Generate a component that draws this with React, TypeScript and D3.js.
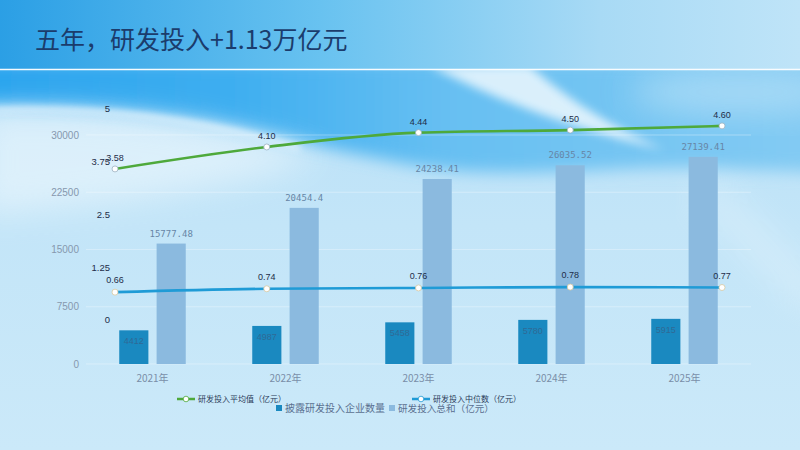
import React from "react";
import * as d3 from "d3";

const years = ["2021年", "2022年", "2023年", "2024年", "2025年"];
const companyCount = [4412, 4987, 5458, 5780, 5915];
const totalInvest = [15777.48, 20454.4, 24238.41, 26035.52, 27139.41];
const avgInvest = [3.58, 4.1, 4.44, 4.5, 4.6];
const medianInvest = [0.66, 0.74, 0.76, 0.78, 0.77];
const barTicks = [0, 7500, 15000, 22500, 30000];
const lineTicks = [0, 1.25, 2.5, 3.75, 5];
const totalLabels = ["15777.48", "20454.4", "24238.41", "26035.52", "27139.41"];
const avgLabels = ["3.58", "4.10", "4.44", "4.50", "4.60"];
const medianLabels = ["0.66", "0.74", "0.76", "0.78", "0.77"];
const seriesNames = ["披露研发投入企业数量", "研发投入总和（亿元）", "研发投入平均值（亿元）", "研发投入中位数（亿元）"];
const title = "五年，研发投入+1.13万亿元";

const W = 800;
const H = 450;
const C_DARK = "#1a89c0";
const C_LIGHT = "#8bbadf";
const C_GREEN = "#4ea93b";
const C_BLUE = "#1f9bd6";
const FONT = "'Noto Sans CJK SC', 'Liberation Sans', sans-serif";

export default function App() {
  const x = d3.scaleBand<string>().domain(years).range([86, 751]).paddingInner(0.5).paddingOuter(0.25);
  const xi = d3.scaleBand<string>().domain(["count", "total"]).range([0, x.bandwidth()]).paddingInner(0.22);
  const xp = d3.scalePoint<string>().domain(years).range([115, 722]);
  const yBar = d3.scaleLinear().domain([0, 30000]).range([364, 135]);
  const yLine = d3.scaleLinear().domain([0, 5]).range([320, 109]);

  const line = d3
    .line<number>()
    .x((_, i) => xp(years[i]) as number)
    .y((d) => yLine(d))
    .curve(d3.curveMonotoneX);

  return (
    <svg width={W} height={H} style={{ position: "absolute", left: 0, top: 0 }} fontFamily={FONT}>
      <defs>
        <linearGradient id="base" x1="0" y1="0" x2="0" y2="1">
          <stop offset="0" stopColor="#b4def7" />
          <stop offset="0.5" stopColor="#c3e5f8" />
          <stop offset="1" stopColor="#cbe9f9" />
        </linearGradient>
        <linearGradient id="head" x1="0" y1="0" x2="1" y2="0">
          <stop offset="0" stopColor="#2b9fe5" />
          <stop offset="0.4" stopColor="#68c2f0" />
          <stop offset="0.75" stopColor="#a8daf5" />
          <stop offset="1" stopColor="#bfe4f8" />
        </linearGradient>
        <linearGradient id="band" x1="0" y1="0" x2="1" y2="0">
          <stop offset="0" stopColor="#2aa4ee" />
          <stop offset="0.3" stopColor="#3eaef0" />
          <stop offset="0.55" stopColor="#66bff2" />
          <stop offset="1" stopColor="#84cbf3" />
        </linearGradient>
        <filter id="blur8" x="-20%" y="-50%" width="140%" height="200%">
          <feGaussianBlur stdDeviation="8" />
        </filter>
        <filter id="blur5" x="-20%" y="-50%" width="140%" height="200%">
          <feGaussianBlur stdDeviation="5" />
        </filter>
        <filter id="blur3" x="-20%" y="-50%" width="140%" height="200%">
          <feGaussianBlur stdDeviation="3" />
        </filter>
        <filter id="blur16" x="-20%" y="-50%" width="140%" height="200%">
          <feGaussianBlur stdDeviation="16" />
        </filter>
      </defs>

      {/* background */}
      <rect x={0} y={0} width={W} height={H} fill="url(#base)" />
      <path
        d="M-20,60 L820,60 L820,172 C760,170 700,166 640,168 C560,172 480,176 420,166 C340,152 280,136 220,124 C150,112 80,106 -20,106 Z"
        fill="url(#band)"
        filter="url(#blur8)"
      />
      <ellipse cx={740} cy={92} rx={110} ry={22} fill="#b6e0f7" opacity={0.7} filter="url(#blur16)" />
      <path
        d="M-20,112 C100,106 220,120 320,158 C240,190 110,205 -20,215 Z"
        fill="#ffffff"
        opacity={0.45}
        filter="url(#blur16)"
      />
      <path
        d="M-10,110 C100,106 200,118 300,148"
        stroke="#ffffff"
        strokeWidth={5}
        fill="none"
        opacity={0.6}
        filter="url(#blur3)"
      />
      <path
        d="M430,66 L530,66 C560,92 600,122 665,150 C600,135 520,112 430,66 Z"
        fill="#ffffff"
        opacity={0.75}
        filter="url(#blur5)"
      />
      <path
        d="M700,190 C740,220 770,260 820,300"
        stroke="#ffffff"
        strokeWidth={30}
        fill="none"
        opacity={0.25}
        filter="url(#blur16)"
      />
      <rect x={0} y={0} width={W} height={69} fill="url(#head)" />
      <line x1={0} x2={W} y1={69.5} y2={69.5} stroke="#ffffff" strokeWidth={1.5} opacity={0.95} />

      {/* title */}
      <text x={35} y={49} fontSize={25} fill="#1b3c6c">
        {title}
      </text>

      {/* grid */}
      {barTicks.map((t) => (
        <line key={"g" + t} x1={86} x2={751} y1={yBar(t)} y2={yBar(t)} stroke="#ffffff" opacity={0.3} />
      ))}

      {/* left axis */}
      {barTicks.map((t) => (
        <text key={"b" + t} x={79} y={yBar(t)} dy="0.35em" textAnchor="end" fontSize={10} fill="#8698ae" fontFamily="'Liberation Sans', sans-serif">
          {t}
        </text>
      ))}
      {/* line axis */}
      {lineTicks.map((t) => (
        <text key={"l" + t} x={110} y={yLine(t)} dy="0.35em" textAnchor="end" fontSize={9.5} fill="#1d2d48" fontFamily="'Liberation Sans', sans-serif">
          {t}
        </text>
      ))}

      {/* bars */}
      {years.map((yr, i) => {
        const x0 = (x(yr) as number) + (xi("count") as number);
        const x1 = (x(yr) as number) + (xi("total") as number);
        const bw = xi.bandwidth();
        return (
          <g key={yr}>
            <rect x={x0} y={yBar(companyCount[i])} width={bw} height={yBar(0) - yBar(companyCount[i])} fill={C_DARK} />
            <rect x={x1} y={yBar(totalInvest[i])} width={bw} height={yBar(0) - yBar(totalInvest[i])} fill={C_LIGHT} />
            <text x={x0 + bw / 2} y={yBar(companyCount[i]) + 14} textAnchor="middle" fontSize={9} fill="#2f6a96" fontFamily="'Liberation Sans', sans-serif">
              {companyCount[i]}
            </text>
            <text x={x1 + bw / 2} y={yBar(totalInvest[i]) - 7} textAnchor="middle" fontSize={9} fill="#6786a6" fontFamily="'DejaVu Sans Mono', monospace">
              {totalLabels[i]}
            </text>
            <text x={(x(yr) as number) + x.bandwidth() / 2} y={378} dy="0.35em" textAnchor="middle" fontSize={10} fill="#7a8ea8">
              {yr}
            </text>
          </g>
        );
      })}

      {/* lines */}
      <path d={line(avgInvest) as string} fill="none" stroke={C_GREEN} strokeWidth={2.6} />
      <path d={line(medianInvest) as string} fill="none" stroke={C_BLUE} strokeWidth={2.6} />
      {years.map((yr, i) => (
        <g key={"p" + yr}>
          <circle cx={xp(yr)} cy={yLine(avgInvest[i])} r={3} fill="#ffffff" stroke="#9ab0c0" strokeWidth={0.8} />
          <circle cx={xp(yr)} cy={yLine(medianInvest[i])} r={3} fill="#ffffff" stroke="#d8c8a0" strokeWidth={0.8} />
          <text x={xp(yr)} y={yLine(avgInvest[i]) - 8} textAnchor="middle" fontSize={9} fill="#1d2d48" fontFamily="'Liberation Sans', sans-serif">
            {avgLabels[i]}
          </text>
          <text x={xp(yr)} y={yLine(medianInvest[i]) - 9} textAnchor="middle" fontSize={9} fill="#1d2d48" fontFamily="'Liberation Sans', sans-serif">
            {medianLabels[i]}
          </text>
        </g>
      ))}

      {/* legend row 1 */}
      <g>
        <line x1={177} x2={195} y1={399} y2={399} stroke={C_GREEN} strokeWidth={2.5} />
        <circle cx={186} cy={399} r={2.8} fill="#ffffff" stroke={C_GREEN} strokeWidth={0.8} />
        <text x={198} y={399} dy="0.35em" fontSize={8} fill="#2a3a58">
          {seriesNames[2]}
        </text>
        <line x1={412} x2={430} y1={399} y2={399} stroke={C_BLUE} strokeWidth={2.5} />
        <circle cx={421} cy={399} r={2.8} fill="#ffffff" stroke={C_BLUE} strokeWidth={0.8} />
        <text x={433} y={399} dy="0.35em" fontSize={8} fill="#2a3a58">
          {seriesNames[3]}
        </text>
      </g>
      {/* legend row 2 */}
      <g>
        <rect x={276} y={405} width={6} height={6} fill={C_DARK} />
        <text x={285} y={408.5} dy="0.35em" fontSize={10} fill="#5a7090">
          {seriesNames[0]}
        </text>
        <rect x={389} y={405} width={6} height={6} fill={C_LIGHT} />
        <text x={398} y={408.5} dy="0.35em" fontSize={9.6} fill="#5a7090">
          {seriesNames[1]}
        </text>
      </g>
    </svg>
  );
}
